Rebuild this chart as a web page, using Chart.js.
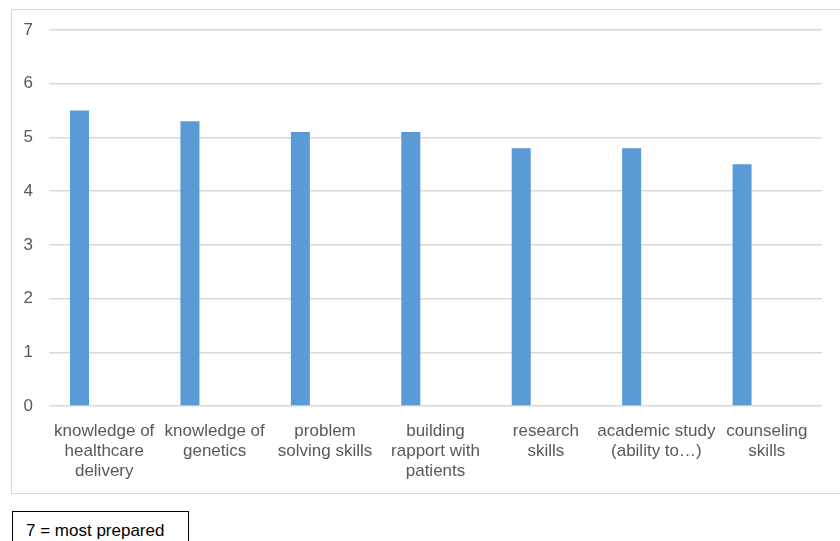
<!DOCTYPE html>
<html>
<head>
<meta charset="utf-8">
<script src="https://cdn.jsdelivr.net/npm/chart.js@4"></script>
<style>
  html, body { margin: 0; padding: 0; background: #fff; overflow: hidden; }
  body { width: 840px; height: 541px; position: relative; font-family: "Liberation Sans", Arial, sans-serif; }
  #frame { position: absolute; left: 11px; top: 9px; width: 840px; height: 485px; border: 1px solid #d9d9d9; box-sizing: border-box; }
  #wrap { position: absolute; left: 12px; top: 10px; width: 828px; height: 483px; }
  #note { position: absolute; left: 12px; top: 511px; width: 177px; height: 40px; border: 1px solid #000; box-sizing: border-box;
          font-size: 17px; color: #000; padding: 9px 0 0 13px; }
</style>
</head>
<body>
<div id="frame"></div>
<div id="wrap"><canvas id="chart"></canvas></div>
<div id="note">7 = most prepared</div>
<script>
// categories, one entry per wrapped line
const categories = [
    ["knowledge of", "healthcare", "delivery"],
    ["knowledge of", "genetics"],
    ["problem", "solving skills"],
    ["building", "rapport with", "patients"],
    ["research", "skills"],
    ["academic study", "(ability to\u2026)"],
    ["counseling", "skills"]
];
const preparedness = [5.5, 5.3, 5.1, 5.1, 4.8, 4.8, 4.5];
// second series is empty in the source, it just keeps the bars to the left
const emptySeries = [null, null, null, null, null, null, null];
const yTicks = [0, 1, 2, 3, 4, 5, 6, 7];

const textColor = "#595959";
const gridColor = "#d9d9d9";

document.addEventListener("DOMContentLoaded", () => {
    const ctx = document.getElementById("chart");
    new Chart(ctx, {
        type: "bar",
        data: {
            labels: categories,
            datasets: [
                { label: "Preparedness", data: preparedness, backgroundColor: "#5b9bd5", barPercentage: 0.385, categoryPercentage: 0.895 },
                { label: "", data: emptySeries, backgroundColor: "#ed7d31", barPercentage: 0.385, categoryPercentage: 0.895 }
            ]
        },
        options: {
            responsive: true,
            maintainAspectRatio: false,
            animation: false,
            layout: { padding: { top: 20, right: 18, left: 0, bottom: 0 } },
            plugins: { legend: { display: false }, tooltip: { enabled: false } },
            scales: {
                x: {
                    afterFit: axis => { axis.height = 87; },
                    grid: { display: false, drawTicks: false },
                    border: { display: false },
                    ticks: {
                        color: textColor, maxRotation: 0, autoSkip: false, padding: 15,
                        font: { family: "'Liberation Sans', Arial, sans-serif", size: 17, lineHeight: 1.18 }
                    }
                },
                y: {
                    min: 0, max: 7,
                    afterBuildTicks: axis => { axis.ticks = yTicks.map(v => ({ value: v })); },
                    afterFit: axis => { axis.width = 37; axis.paddingTop = 0; axis.paddingBottom = 0; },
                    grid: { color: gridColor, lineWidth: 1.5, drawTicks: false },
                    border: { display: false },
                    ticks: {
                        color: textColor, padding: 16,
                        font: { family: "'Liberation Sans', Arial, sans-serif", size: 17 }
                    }
                }
            }
        }
    });
});
</script>
</body>
</html>
